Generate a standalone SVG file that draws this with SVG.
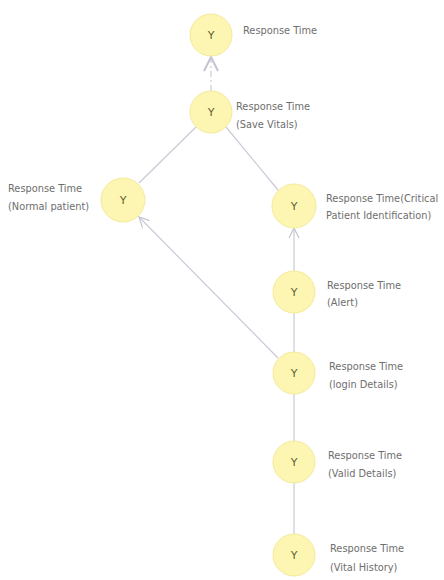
<svg xmlns="http://www.w3.org/2000/svg" width="444" height="580" viewBox="0 0 444 580">
  <style>
    .node circle { fill: #fdf6b2; stroke: #f4ea9a; stroke-width: 1; }
    .node .y { font-family: "DejaVu Sans", sans-serif; font-size: 11px; fill: #5e5e34; text-anchor: middle; dominant-baseline: central; }
    .lbl { font-family: "DejaVu Sans", sans-serif; font-size: 9.8px; fill: #6e6e6e; }
    .edge { stroke: #cacad6; stroke-width: 1.2; fill: none; }
  </style>
  <defs>
    <marker id="open" viewBox="0 0 12 12" refX="11" refY="6" markerWidth="12" markerHeight="12" markerUnits="userSpaceOnUse" orient="auto">
      <path d="M1,1 L11,6 L1,11" fill="none" stroke="#c4c4d0" stroke-width="1.2"/>
    </marker>
    <marker id="openBig" viewBox="0 0 16 16" refX="15" refY="8" markerWidth="16" markerHeight="16" markerUnits="userSpaceOnUse" orient="auto">
      <path d="M1,1 L15,8 L1,15" fill="none" stroke="#c4c4d0" stroke-width="2"/>
    </marker>
  </defs>

  <g id="connectors">
    <line class="edge" x1="211" y1="91" x2="211" y2="57" stroke-dasharray="6 3 2 3" marker-end="url(#openBig)"/>
    <line class="edge" x1="196" y1="127" x2="139" y2="183"/>
    <line class="edge" x1="226" y1="127" x2="278" y2="190"/>
    <line class="edge" x1="278" y1="358" x2="139" y2="217" marker-end="url(#open)"/>
    <line class="edge" x1="294" y1="271" x2="294" y2="228" marker-end="url(#open)"/>
    <line class="edge" x1="294" y1="352" x2="294" y2="313"/>
    <line class="edge" x1="294" y1="441" x2="294" y2="394"/>
    <line class="edge" x1="294" y1="534" x2="294" y2="483"/>
  </g>

  <g id="n-response" class="node">
    <circle cx="211" cy="35" r="21"/>
    <text class="y" x="211" y="35">Y</text>
    <text class="lbl" x="243" y="34">Response Time</text>
  </g>
  <g id="n-save-vitals" class="node">
    <circle cx="211" cy="112" r="21"/>
    <text class="y" x="211" y="112">Y</text>
    <text class="lbl" x="236" y="110">Response Time</text>
    <text class="lbl" x="236" y="128">(Save Vitals)</text>
  </g>
  <g id="n-normal" class="node">
    <circle cx="123" cy="200" r="22"/>
    <text class="y" x="123" y="200">Y</text>
    <text class="lbl" x="8" y="192">Response Time</text>
    <text class="lbl" x="8" y="210">(Normal patient)</text>
  </g>
  <g id="n-critical" class="node">
    <circle cx="294" cy="206" r="22"/>
    <text class="y" x="294" y="206">Y</text>
    <text class="lbl" x="326" y="202">Response Time(Critical</text>
    <text class="lbl" x="326" y="219">Patient Identification)</text>
  </g>
  <g id="n-alert" class="node">
    <circle cx="294" cy="292" r="21"/>
    <text class="y" x="294" y="292">Y</text>
    <text class="lbl" x="327" y="289">Response Time</text>
    <text class="lbl" x="327" y="306">(Alert)</text>
  </g>
  <g id="n-login" class="node">
    <circle cx="294" cy="373" r="21"/>
    <text class="y" x="294" y="373">Y</text>
    <text class="lbl" x="329" y="370">Response Time</text>
    <text class="lbl" x="329" y="388">(login Details)</text>
  </g>
  <g id="n-valid" class="node">
    <circle cx="294" cy="462" r="21"/>
    <text class="y" x="294" y="462">Y</text>
    <text class="lbl" x="328" y="459">Response Time</text>
    <text class="lbl" x="328" y="477">(Valid Details)</text>
  </g>
  <g id="n-vital-history" class="node">
    <circle cx="294" cy="555" r="21"/>
    <text class="y" x="294" y="555">Y</text>
    <text class="lbl" x="330" y="552">Response Time</text>
    <text class="lbl" x="330" y="571">(Vital History)</text>
  </g>
</svg>
